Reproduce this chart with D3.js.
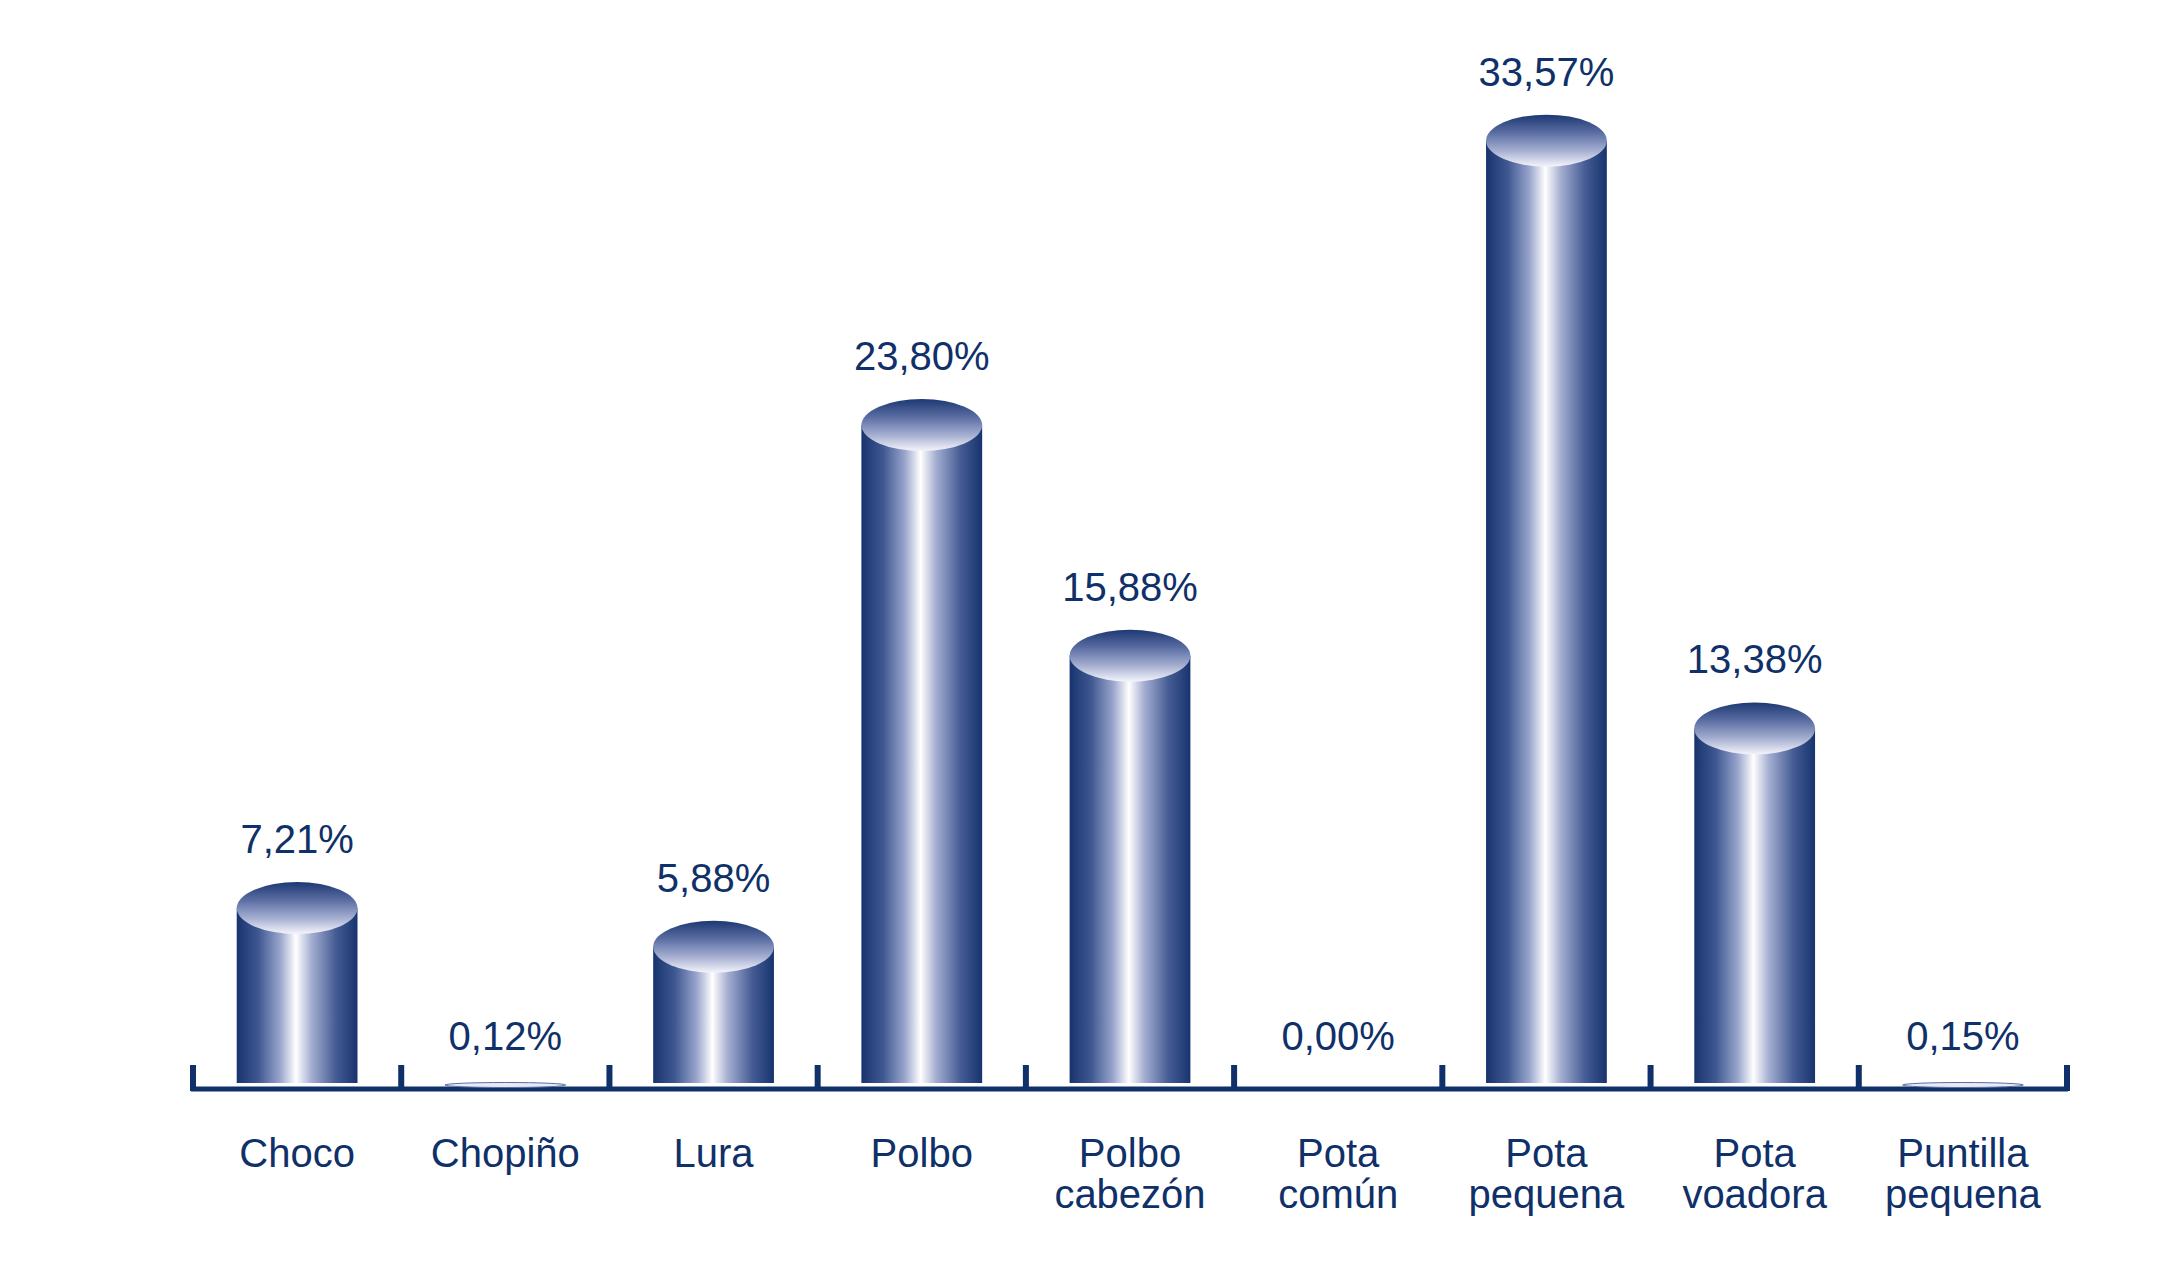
<!DOCTYPE html>
<html>
<head>
<meta charset="utf-8">
<script src="https://cdn.jsdelivr.net/npm/d3@7/dist/d3.min.js"></script>
<style>
  html, body { margin: 0; padding: 0; background: #ffffff; }
  svg { display: block; }
</style>
</head>
<body>
<script>
// ---- Data ----
const categories = [
  ["Choco"], ["Chopiño"], ["Lura"], ["Polbo"], ["Polbo", "cabezón"],
  ["Pota", "común"], ["Pota", "pequena"], ["Pota", "voadora"], ["Puntilla", "pequena"]
];
const values = [7.21, 0.12, 5.88, 23.80, 15.88, 0.00, 33.57, 13.38, 0.15];
const yDomain = [0, 35];

// ---- Layout ----
const W = 2176, H = 1276;
const axisLeft = 193, axisRight = 2067;
const baseY = 1083;      // where cylinder bodies end
const axisY = 1089;      // axis line center
const navy = "#0f3068";
const fontFamily = "'Liberation Sans', Arial, Helvetica, sans-serif";

const svg = d3.select("body").append("svg")
  .attr("width", W).attr("height", H);

const defs = svg.append("defs");
const bodyGrad = defs.append("linearGradient").attr("id", "bodyGrad")
  .attr("x1", "0%").attr("x2", "100%").attr("y1", "0%").attr("y2", "0%");
[["0%", "#17336d"], ["18%", "#3f5892"], ["36%", "#99a5cc"], ["49%", "#ffffff"],
 ["62%", "#a3add0"], ["82%", "#455c94"], ["100%", "#17336d"]]
  .forEach(([o, c]) => bodyGrad.append("stop").attr("offset", o).attr("stop-color", c));

const topGrad = defs.append("linearGradient").attr("id", "topGrad")
  .attr("x1", "0%").attr("x2", "0%").attr("y1", "0%").attr("y2", "100%");
[["0%", "#1d3873"], ["35%", "#5b6ea3"], ["70%", "#a7b0d2"], ["100%", "#f4f5fb"]]
  .forEach(([o, c]) => topGrad.append("stop").attr("offset", o).attr("stop-color", c));

const x = d3.scaleBand().domain(d3.range(categories.length))
  .range([axisLeft, axisRight]).paddingInner(0).paddingOuter(0);
const y = d3.scaleLinear().domain(yDomain).range([1118, 99]);

const barW = x.bandwidth() * 0.58;
const rx = barW / 2, ry = 26;

const locale = d3.formatLocale({ decimal: ",", thousands: ".", grouping: [3], currency: ["", "€"] });
const fmt = v => locale.format(".2f")(v) + "%";

// ---- Axis ----
const axis = d3.axisBottom(x).tickSize(0).tickFormat("");
const axisG = svg.append("g").attr("transform", `translate(0,${axisY})`).call(axis);
axisG.select(".domain").attr("stroke", navy).attr("stroke-width", 5)
  .attr("d", `M${axisLeft - 2},0H${axisRight + 1}`);

// boundary ticks
const bounds = d3.range(categories.length + 1).map(i => i < categories.length ? x(i) : axisRight);
svg.append("g").selectAll("line").data(bounds).join("line")
  .attr("x1", d => d).attr("x2", d => d)
  .attr("y1", 1065).attr("y2", axisY + 2)
  .attr("stroke", navy).attr("stroke-width", 6);

// ---- Bars ----
const bars = svg.append("g").selectAll("g").data(values).join("g");
bars.each(function (v, i) {
  const g = d3.select(this);
  const cx = x(i) + x.bandwidth() / 2;
  const yt = y(v);
  if (v <= 0) return;
  if (yt < baseY) {
    g.append("rect")
      .attr("x", cx - rx).attr("y", yt)
      .attr("width", barW).attr("height", baseY - yt)
      .attr("fill", "url(#bodyGrad)");
    g.append("ellipse")
      .attr("cx", cx).attr("cy", yt).attr("rx", rx).attr("ry", ry)
      .attr("fill", "url(#topGrad)");
  } else {
    g.append("ellipse")
      .attr("cx", cx).attr("cy", baseY + 2).attr("rx", rx).attr("ry", 2.5)
      .attr("fill", "#e8eaf4").attr("stroke", "#5a6ea6").attr("stroke-width", 1);
  }
});

// ---- Value labels ----
svg.append("g").selectAll("text").data(values).join("text")
  .attr("x", (d, i) => x(i) + x.bandwidth() / 2)
  .attr("y", d => Math.min(y(d), baseY + 22) - 55)
  .attr("text-anchor", "middle")
  .attr("font-family", fontFamily).attr("font-size", 40)
  .attr("fill", navy)
  .text(d => fmt(d));

// ---- Category labels ----
const catG = svg.append("g");
categories.forEach((lines, i) => {
  const t = catG.append("text")
    .attr("x", x(i) + x.bandwidth() / 2).attr("y", 1167)
    .attr("text-anchor", "middle")
    .attr("font-family", fontFamily).attr("font-size", 40)
    .attr("fill", navy);
  lines.forEach((ln, j) => {
    t.append("tspan").attr("x", x(i) + x.bandwidth() / 2)
      .attr("dy", j === 0 ? 0 : 41).text(ln);
  });
});
</script>
</body>
</html>
